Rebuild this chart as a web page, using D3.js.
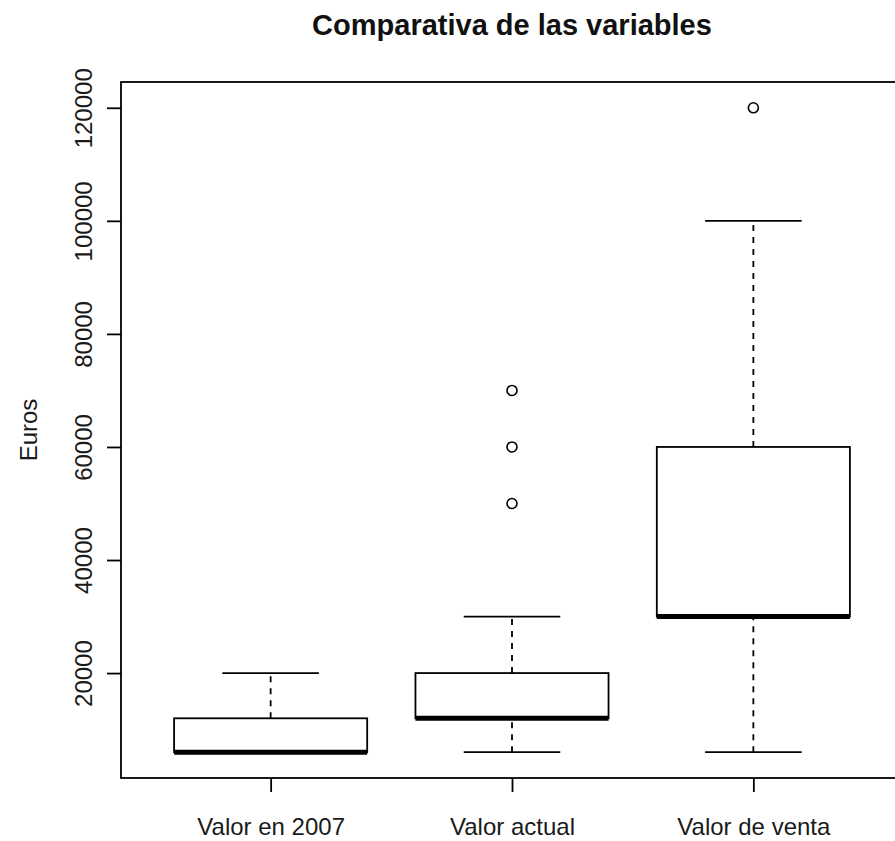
<!DOCTYPE html>
<html>
<head>
<meta charset="utf-8">
<script src="https://cdn.jsdelivr.net/npm/d3@7"></script>
<style>
  html, body { margin: 0; padding: 0; background: #fff; }
  svg { display: block; font-family: "Liberation Sans", Arial, Helvetica, sans-serif; }
</style>
</head>
<body>
<svg id="chart" width="895" height="841"></svg>
<script>
// ---- data ----
const categories   = ["Valor en 2007", "Valor actual", "Valor de venta"];
const lowerWhisker = [6000, 6000, 6000];
const q1           = [6000, 12000, 30000];
const medians      = [6000, 12000, 30000];
const q3           = [12000, 20000, 60000];
const upperWhisker = [20000, 30000, 100000];
const outliers     = [[], [50000, 60000, 70000], [120000]];
const yTicks       = [20000, 40000, 60000, 80000, 100000, 120000];
const title        = "Comparativa de las variables";
const yLabel       = "Euros";

// ---- layout ----
const svg = d3.select("#chart");
const plot = { left: 121, right: 903, top: 82, bottom: 778 };

const dataMin = d3.min(lowerWhisker.concat(outliers.flat()));
const dataMax = d3.max(upperWhisker.concat(outliers.flat()));
const pad = (dataMax - dataMin) * 0.04;

const y = d3.scaleLinear().domain([dataMin - pad, dataMax + pad]).range([plot.bottom, plot.top]);
const n = categories.length;
const xPad = (n) * 0.04;
const x = d3.scaleLinear().domain([0.5 - xPad, n + 0.5 + xPad]).range([plot.left, plot.right]);

const boxW = x(1.4) - x(1);     // half of 0.8
const stapleW = x(1.2) - x(1);  // half of 0.4
const lw = 1.8;

const data = categories.map((c, i) => ({
  c, pos: i + 1, lo: lowerWhisker[i], q1: q1[i], med: medians[i], q3: q3[i], hi: upperWhisker[i], out: outliers[i]
}));

const g = svg.append("g");

// whiskers (dashed)
g.selectAll("line.wl").data(data).join("line")
  .attr("x1", d => x(d.pos)).attr("x2", d => x(d.pos))
  .attr("y1", d => y(d.lo)).attr("y2", d => y(d.q1))
  .attr("stroke", "#000").attr("stroke-width", lw).attr("stroke-dasharray", "6,6");
g.selectAll("line.wh").data(data).join("line")
  .attr("x1", d => x(d.pos)).attr("x2", d => x(d.pos))
  .attr("y1", d => y(d.q3)).attr("y2", d => y(d.hi))
  .attr("stroke", "#000").attr("stroke-width", lw).attr("stroke-dasharray", "6,6");

// staples
g.selectAll("line.sl").data(data).join("line")
  .attr("x1", d => x(d.pos) - stapleW).attr("x2", d => x(d.pos) + stapleW)
  .attr("y1", d => y(d.lo)).attr("y2", d => y(d.lo))
  .attr("stroke", "#000").attr("stroke-width", lw);
g.selectAll("line.sh").data(data).join("line")
  .attr("x1", d => x(d.pos) - stapleW).attr("x2", d => x(d.pos) + stapleW)
  .attr("y1", d => y(d.hi)).attr("y2", d => y(d.hi))
  .attr("stroke", "#000").attr("stroke-width", lw);

// boxes
g.selectAll("rect.box").data(data).join("rect")
  .attr("x", d => x(d.pos) - boxW).attr("width", 2 * boxW)
  .attr("y", d => y(d.q3)).attr("height", d => y(d.q1) - y(d.q3))
  .attr("fill", "#fff").attr("stroke", "#000").attr("stroke-width", lw);

// medians
g.selectAll("line.med").data(data).join("line")
  .attr("x1", d => x(d.pos) - boxW).attr("x2", d => x(d.pos) + boxW)
  .attr("y1", d => y(d.med)).attr("y2", d => y(d.med))
  .attr("stroke", "#000").attr("stroke-width", 5);

// outliers
const outPts = data.flatMap(d => d.out.map(v => ({ pos: d.pos, v })));
g.selectAll("circle.out").data(outPts).join("circle")
  .attr("cx", d => x(d.pos)).attr("cy", d => y(d.v)).attr("r", 5)
  .attr("fill", "none").attr("stroke", "#000").attr("stroke-width", 1.6);

// plot frame
svg.append("rect")
  .attr("x", plot.left).attr("y", plot.top)
  .attr("width", plot.right - plot.left).attr("height", plot.bottom - plot.top)
  .attr("fill", "none").attr("stroke", "#000").attr("stroke-width", lw);

// y axis
const yAxis = svg.append("g").attr("transform", `translate(${plot.left},0)`)
  .call(d3.axisLeft(y).tickValues(yTicks).tickSize(14).tickFormat(d3.format("d")));
yAxis.select(".domain").remove();
yAxis.selectAll(".tick line").attr("stroke", "#000").attr("stroke-width", lw);
yAxis.selectAll(".tick text")
  .attr("x", null).attr("dy", null)
  .attr("transform", "translate(-29,0) rotate(-90)")
  .attr("text-anchor", "middle")
  .attr("font-size", 24).attr("fill", "#1a1a1a")
  .style("font-family", "'Liberation Sans', Arial, sans-serif");

// x axis
const xAxis = svg.append("g").attr("transform", `translate(0,${plot.bottom})`)
  .call(d3.axisBottom(x).tickValues(data.map(d => d.pos)).tickSize(14).tickFormat(i => categories[i - 1]));
xAxis.select(".domain").remove();
xAxis.selectAll(".tick line").attr("stroke", "#000").attr("stroke-width", lw);
xAxis.selectAll(".tick text")
  .attr("y", 57).attr("dy", null)
  .attr("font-size", 24).attr("fill", "#1a1a1a")
  .style("font-family", "'Liberation Sans', Arial, sans-serif");

// title
svg.append("text")
  .attr("x", (plot.left + plot.right) / 2).attr("y", 35)
  .attr("text-anchor", "middle").attr("font-size", 29).attr("font-weight", "bold")
  .attr("fill", "#111").text(title);

// y label
svg.append("text")
  .attr("transform", `translate(37,${(plot.top + plot.bottom) / 2}) rotate(-90)`)
  .attr("text-anchor", "middle").attr("font-size", 24).attr("fill", "#1a1a1a")
  .text(yLabel);
</script>
</body>
</html>
